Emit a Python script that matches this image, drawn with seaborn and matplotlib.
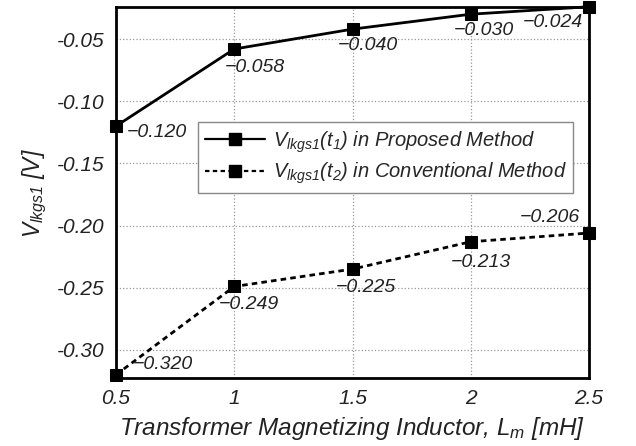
import matplotlib
matplotlib.use("Agg")
import matplotlib.pyplot as plt
import seaborn as sns
import pandas as pd
from matplotlib.lines import Line2D

# ---- data ----
inductance_mH = [0.5, 1.0, 1.5, 2.0, 2.5]
proposed_V = [-0.120, -0.058, -0.042, -0.030, -0.024]
conventional_V = [-0.320, -0.249, -0.235, -0.213, -0.206]
proposed_labels = ["\u22120.120", "\u22120.058", "\u22120.040", "\u22120.030", "\u22120.024"]
conventional_labels = ["\u22120.320", "\u22120.249", "\u22120.225", "\u22120.213", "\u22120.206"]
x_ticks = [0.5, 1, 1.5, 2, 2.5]
x_tick_labels = ["0.5", "1", "1.5", "2", "2.5"]
y_ticks = [-0.05, -0.10, -0.15, -0.20, -0.25, -0.30]
y_tick_labels = ["-0.05", "-0.10", "-0.15", "-0.20", "-0.25", "-0.30"]
series_names = [r"$V_{lkgs1}(t_1)$ in Proposed Method",
                r"$V_{lkgs1}(t_2)$ in Conventional Method"]

sns.set_style("white")
plt.rcParams["font.family"] = ["Liberation Sans", "DejaVu Sans"]
plt.rcParams["font.style"] = "italic"
plt.rcParams["mathtext.fontset"] = "custom"
plt.rcParams["mathtext.rm"] = "Liberation Sans:italic"
plt.rcParams["mathtext.it"] = "Liberation Sans:italic"
plt.rcParams["mathtext.default"] = "it"

df = pd.DataFrame({
    "L": inductance_mH * 2,
    "V": proposed_V + conventional_V,
    "series": [series_names[0]] * 5 + [series_names[1]] * 5,
})

fig = plt.figure(figsize=(6.36, 4.46), dpi=100)
ax = fig.add_axes([116 / 636, 1 - 378 / 446, (589 - 116) / 636, (378 - 7) / 446])

sns.lineplot(data=df[df.series == series_names[0]], x="L", y="V", ax=ax,
             color="black", linewidth=2.0, marker="s", markersize=9,
             markeredgecolor="black", linestyle="-", clip_on=False)
sns.lineplot(data=df[df.series == series_names[1]], x="L", y="V", ax=ax,
             color="black", linewidth=2.0, marker="s", markersize=9,
             markeredgecolor="black", linestyle=(0, (2, 1.5)), clip_on=False)

ax.set_xlim(0.5, 2.5)
ax.set_ylim(-0.3226, -0.0242)
ax.set_xticks(x_ticks)
ax.set_xticklabels(x_tick_labels)
ax.set_yticks(y_ticks)
ax.set_yticklabels(y_tick_labels)
ax.tick_params(axis="both", length=0, labelsize=15, colors="#222222")
ax.tick_params(axis="y", pad=8)
ax.tick_params(axis="x", pad=8)
ax.grid(True, color="#999999", linestyle=":", linewidth=0.9)
for s in ax.spines.values():
    s.set_color("black")
    s.set_linewidth(2.0)

ax.set_xlabel(r"Transformer Magnetizing Inductor, $L_m$ [mH]", fontsize=17.5,
              labelpad=5, color="#222222")
ax.set_ylabel(r"$V_{lkgs1}$ [V]", fontsize=16.5, labelpad=6, color="#222222")

# annotations (offsets in pixels)
p_off = [(11, -6, "left"), (-10, -18, "left"), (-15, -16, "left"), (-17, -16, "left"), (-6, -16, "right")]
c_off = [(17, 10, "left"), (-15, -18, "left"), (-17, -18, "left"), (-20, -21, "left"), (-9, 16, "right")]
for x, y, t, (dx, dy, ha) in zip(inductance_mH, proposed_V, proposed_labels, p_off):
    ax.annotate(t, (x, y), xytext=(dx, dy), textcoords="offset pixels",
                ha=ha, va="center", fontsize=14, color="#222222", annotation_clip=False)
for x, y, t, (dx, dy, ha) in zip(inductance_mH, conventional_V, conventional_labels, c_off):
    ax.annotate(t, (x, y), xytext=(dx, dy), textcoords="offset pixels",
                ha=ha, va="center", fontsize=14, color="#222222", annotation_clip=False)

handles = [
    Line2D([], [], color="black", linewidth=1.6, marker="s", markersize=9, linestyle="-"),
    Line2D([], [], color="black", linewidth=1.6, marker="s", markersize=9, linestyle=(0, (2, 1.5))),
]
leg = ax.legend(handles, series_names, loc="upper left",
                bbox_to_anchor=((198 - 116) / 473, (378 - 122) / 371),
                fontsize=14.5, frameon=True, fancybox=False, framealpha=1,
                edgecolor="#888888", handlelength=3.0, borderpad=0.35,
                labelspacing=0.3, handletextpad=0.35, borderaxespad=0)
leg.get_frame().set_linewidth(1.0)

fig.savefig("out.png", dpi=100)
